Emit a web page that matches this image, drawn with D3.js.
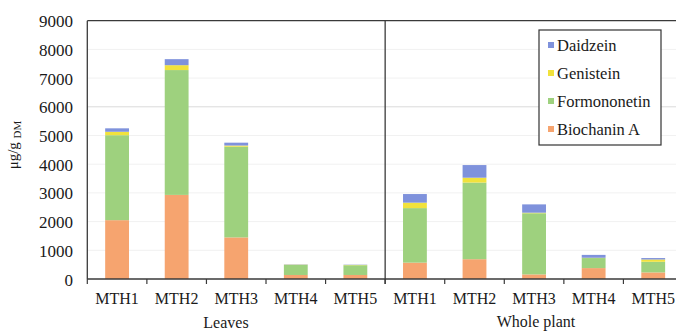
<!DOCTYPE html>
<html>
<head>
<meta charset="utf-8">
<script src="https://cdn.jsdelivr.net/npm/d3@7"></script>
<style>
  html, body { margin: 0; padding: 0; background: #fff; }
  svg { display: block; font-family: "Liberation Serif", "Times New Roman", serif; }
</style>
</head>
<body>
<div id="chart"></div>
<script>
// ------- data -------
const categories = ["MTH1", "MTH2", "MTH3", "MTH4", "MTH5"];
const groups = ["Leaves", "Whole plant"];
const seriesNames = ["Biochanin A", "Formononetin", "Genistein", "Daidzein"];
const yTicks = [0, 1000, 2000, 3000, 4000, 5000, 6000, 7000, 8000, 9000];

// values per group: Leaves MTH1..5, then Whole plant MTH1..5
const biochaninA   = [2050, 2930, 1450, 140, 140,   570,  690,  160, 380, 230];
const formononetin = [2960, 4350, 3160, 350, 340,  1900, 2670, 2130, 350, 370];
const genistein    = [ 120,  170,   40,  10,  10,   190,  170,   20,  10,  80];
const daidzein     = [ 120,  210,  100,  10,  10,   300,  440,  290, 100,  50];

const colors = {
  "Biochanin A": "#f6a46f",
  "Formononetin": "#9ed17e",
  "Genistein": "#f1e23c",
  "Daidzein": "#7f92dc"
};

(() => {
  // ------- build rows -------
  const rows = [];
  groups.forEach((g, gi) => {
    categories.forEach((c, ci) => {
      const i = gi * categories.length + ci;
      rows.push({
        key: g + "|" + c, group: g, cat: c,
        "Biochanin A": biochaninA[i],
        "Formononetin": formononetin[i],
        "Genistein": genistein[i],
        "Daidzein": daidzein[i]
      });
    });
  });

  const width = 676, height = 331;
  const mLeft = 87.3, mRight = 683, mTop = 20.7, mBottom = 279;
  const ink = "#1a1a1a";

  const svg = d3.select("#chart").append("svg")
    .attr("width", width).attr("height", height);

  const x = d3.scaleBand()
    .domain(rows.map(d => d.key))
    .range([mLeft, mRight])
    .paddingInner(0.6)
    .paddingOuter(0.3);

  const y = d3.scaleLinear().domain([0, 9000]).range([mBottom, mTop]);

  // faint gridlines
  svg.append("g")
    .selectAll("line")
    .data(yTicks.filter(t => t > 0 && t < 9000))
    .enter().append("line")
    .attr("x1", mLeft).attr("x2", width)
    .attr("y1", d => y(d)).attr("y2", d => y(d))
    .attr("stroke", d => d === 6000 ? "#dadada" : "#f1f1f1")
    .attr("stroke-width", 1);

  // stacked bars
  const stack = d3.stack().keys(seriesNames)(rows);
  svg.append("g")
    .selectAll("g")
    .data(stack)
    .enter().append("g")
    .attr("fill", s => colors[s.key])
    .selectAll("rect")
    .data(s => s)
    .enter().append("rect")
    .attr("x", d => x(d.data.key))
    .attr("width", x.bandwidth())
    .attr("y", d => y(d[1]))
    .attr("height", d => y(d[0]) - y(d[1]));

  // frame: top, left, divider
  const frame = svg.append("g").attr("stroke", "#3a3a3a").attr("stroke-width", 1.3);
  const step = x.step();
  const divX = mLeft + step * categories.length;
  frame.append("line").attr("x1", mLeft).attr("x2", width).attr("y1", mTop).attr("y2", mTop);
  frame.append("line").attr("x1", mLeft).attr("x2", mLeft).attr("y1", mTop).attr("y2", mBottom);
  frame.append("line").attr("x1", divX).attr("x2", divX).attr("y1", mTop).attr("y2", mBottom + 5);

  // x axis line + ticks at band boundaries
  svg.append("line")
    .attr("x1", mLeft).attr("x2", width)
    .attr("y1", mBottom).attr("y2", mBottom)
    .attr("stroke", "#3a3a3a").attr("stroke-width", 1.3);

  svg.append("g")
    .selectAll("line")
    .data(d3.range(0, rows.length + 1))
    .enter().append("line")
    .attr("x1", i => mLeft + i * step).attr("x2", i => mLeft + i * step)
    .attr("y1", mBottom).attr("y2", mBottom + 5)
    .attr("stroke", "#3a3a3a").attr("stroke-width", 1.2);

  // category labels
  svg.append("g")
    .selectAll("text")
    .data(rows)
    .enter().append("text")
    .attr("x", d => x(d.key) + x.bandwidth() / 2)
    .attr("y", 304)
    .attr("text-anchor", "middle")
    .attr("font-size", 16)
    .attr("fill", ink)
    .text(d => d.cat);

  // group labels
  svg.append("text")
    .attr("x", 226).attr("y", 328)
    .attr("text-anchor", "middle").attr("font-size", 16).attr("fill", ink)
    .text(groups[0]);
  svg.append("text")
    .attr("x", 536).attr("y", 327)
    .attr("text-anchor", "middle").attr("font-size", 16).attr("fill", ink)
    .text(groups[1]);

  // y tick labels
  svg.append("g")
    .selectAll("text")
    .data(yTicks)
    .enter().append("text")
    .attr("x", 73)
    .attr("y", d => y(d) + 6.5)
    .attr("text-anchor", "end")
    .attr("font-size", 17)
    .attr("fill", ink)
    .text(d => d);

  // y axis title
  const yt = svg.append("text")
    .attr("transform", "translate(18,145) rotate(-90)")
    .attr("text-anchor", "middle")
    .attr("font-size", 15)
    .attr("fill", ink);
  yt.append("tspan").text("μg/g ");
  yt.append("tspan").attr("font-size", 11).attr("dy", 3).text("DM");

  // legend
  const lg = svg.append("g");
  lg.append("rect")
    .attr("x", 539).attr("y", 30).attr("width", 122).attr("height", 115)
    .attr("fill", "#fff").attr("stroke", "#333").attr("stroke-width", 1.2);
  const legendItems = seriesNames.slice().reverse();
  const item = lg.selectAll("g.item")
    .data(legendItems)
    .enter().append("g")
    .attr("transform", (d, i) => `translate(548,${45 + i * 28})`);
  item.append("rect")
    .attr("x", 0).attr("y", -3).attr("width", 6).attr("height", 6)
    .attr("fill", d => colors[d]);
  item.append("text")
    .attr("x", 9).attr("y", 5.5)
    .attr("font-size", 16.5)
    .attr("fill", ink)
    .text(d => d);
})();
</script>
</body>
</html>
